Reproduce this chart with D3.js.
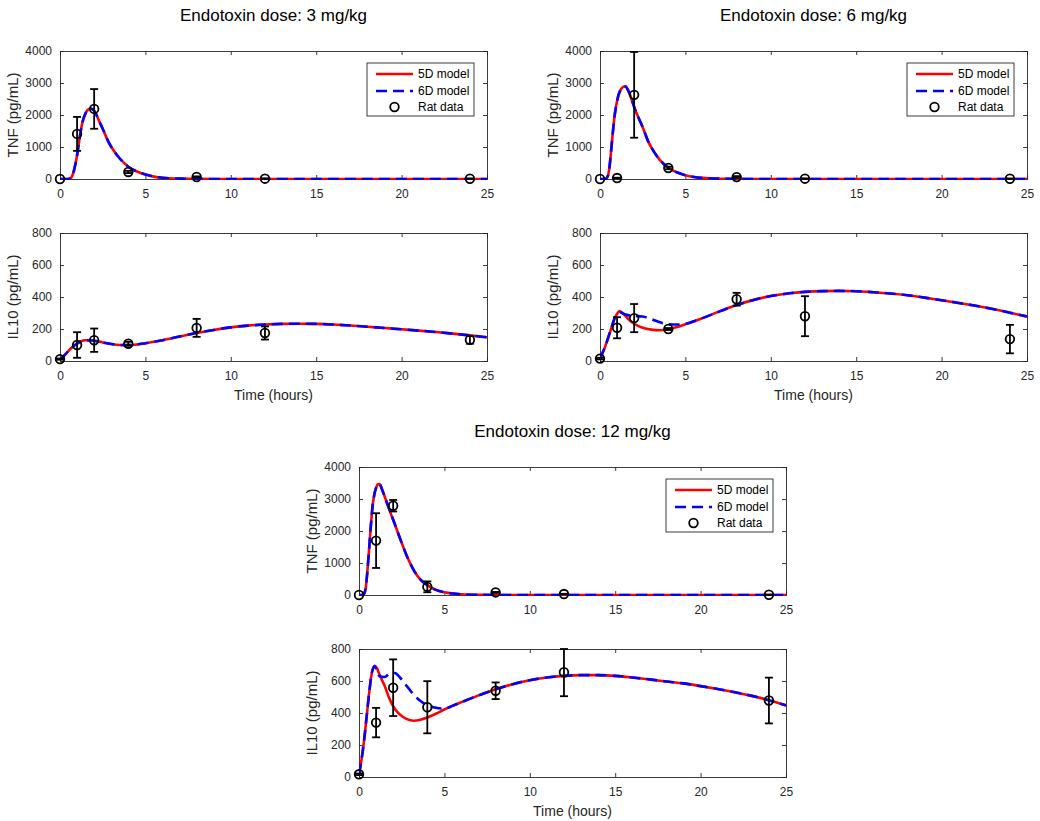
<!DOCTYPE html>
<html>
<head>
<meta charset="utf-8">
<script src="https://cdn.jsdelivr.net/npm/d3@7"></script>
<style>
  html, body { margin: 0; padding: 0; background: #ffffff; }
  svg { display: block; font-family: "Liberation Sans", Arial, sans-serif; }
</style>
</head>
<body>
<svg id="fig" width="1040" height="821"></svg>
<script>
// ---- Sampling times of the rat measurements (hours) ----
const sampleHours = [0, 1, 2, 4, 8, 12, 24];

// ---- Tick labels ----
const timeTicks = [0, 5, 10, 15, 20, 25];
const tnfTicks = [0, 1000, 2000, 3000, 4000];
const il10Ticks = [0, 200, 400, 600, 800];

// ---- Rat data: means and standard deviations ----
const tnf3Mean = [0, 1410, 2190, 220, 62, 10, 8];
const tnf3Sd = [0, 530, 620, 35, 20, 5, 5];
const il10_3Mean = [12, 100, 130, 108, 207, 175, 132];
const il10_3Sd = [4, 80, 73, 12, 56, 41, 24];

const tnf6Mean = [0, 30, 2630, 345, 60, 10, 8];
const tnf6Sd = [0, 10, 1340, 40, 30, 5, 5];
const il10_6Mean = [15, 208, 268, 200, 386, 280, 137];
const il10_6Sd = [5, 66, 88, 6, 40, 125, 89];

const tnf12Mean = [0, 1700, 2790, 255, 80, 30, 8];
const tnf12Sd = [0, 855, 180, 170, 15, 8, 5];
const il10_12Mean = [17, 340, 558, 436, 539, 655, 478];
const il10_12Sd = [5, 92, 177, 163, 52, 150, 143];

// ---- Model trajectories (time grid + values) ----
const tnf3T = [0, 0.4, 0.6, 0.7, 0.8, 0.9, 1.0, 1.15, 1.3, 1.5, 1.65, 1.8, 1.95, 2.1, 2.3, 2.5, 2.8, 3.1, 3.5, 4.0, 4.5, 5.0, 5.5, 6, 7, 8, 10, 25];
const tnf3Model5D = [0, 0, 20, 80, 230, 460, 740, 1280, 1740, 2060, 2170, 2200, 2160, 2040, 1800, 1570, 1200, 920, 640, 385, 235, 138, 75, 38, 11, 3, 0, 0];
const tnf3Model6D = [0, 0, 20, 80, 230, 460, 740, 1280, 1740, 2060, 2170, 2200, 2160, 2040, 1800, 1570, 1200, 920, 640, 385, 235, 138, 75, 38, 11, 3, 0, 0];

const il10_3T = [0, 0.3, 0.6, 0.9, 1.2, 1.5, 1.8, 2.1, 2.5, 3.0, 3.5, 4.0, 4.5, 5, 6, 7, 8, 9, 10, 11, 12, 13, 14, 15, 16, 17, 18, 19, 20, 21, 22, 23, 24, 25];
const il10_3Model5D = [10, 40, 75, 102, 122, 130, 130, 125, 116, 106, 100, 99, 103, 111, 130, 153, 175, 194, 210, 221, 228, 232, 233, 232, 228, 222, 214, 206, 198, 190, 181, 171, 160, 148];
const il10_3Model6D = [10, 40, 75, 102, 122, 130, 130, 125, 116, 106, 100, 99, 103, 111, 130, 153, 175, 194, 210, 221, 228, 232, 233, 232, 228, 222, 214, 206, 198, 190, 181, 171, 160, 148];

const tnf6T = [0, 0.3, 0.45, 0.55, 0.65, 0.75, 0.85, 0.95, 1.1, 1.25, 1.4, 1.5, 1.6, 1.75, 1.9, 2.05, 2.25, 2.5, 2.8, 3.1, 3.5, 4.0, 4.5, 5.0, 5.5, 6, 7, 8, 10, 25];
const tnf6Model5D = [0, 0, 80, 350, 880, 1450, 1950, 2300, 2650, 2820, 2890, 2890, 2820, 2640, 2410, 2170, 1920, 1620, 1200, 900, 600, 350, 210, 120, 65, 35, 10, 3, 0, 0];
const tnf6Model6D = [0, 0, 80, 350, 880, 1450, 1950, 2300, 2650, 2820, 2890, 2890, 2820, 2640, 2410, 2170, 1920, 1620, 1200, 900, 600, 350, 210, 120, 65, 35, 10, 3, 0, 0];

const il10_6T = [0, 0.3, 0.6, 0.9, 1.15, 1.4, 1.7, 2.0, 2.5, 3.0, 3.5, 4.0, 4.5, 5.0, 5.5, 6, 7, 8, 9, 10, 11, 12, 13, 14, 15, 16, 17, 18, 19, 20, 21, 22, 23, 24, 25];
const il10_6Model5D = [15, 90, 185, 275, 312, 292, 258, 233, 208, 196, 192, 198, 212, 230, 248, 268, 310, 350, 382, 406, 422, 432, 437, 438, 436, 430, 422, 411, 396, 380, 363, 345, 325, 302, 278];
const il10_6Model6D = [15, 90, 185, 280, 305, 294, 285, 282, 278, 262, 242, 230, 228, 232, 248, 268, 310, 350, 382, 406, 422, 432, 437, 438, 436, 430, 422, 411, 396, 380, 363, 345, 325, 302, 278];

const tnf12T = [0, 0.2, 0.3, 0.4, 0.5, 0.6, 0.7, 0.8, 0.9, 1.0, 1.1, 1.2, 1.35, 1.5, 1.65, 1.85, 2.05, 2.25, 2.45, 2.8, 3.1, 3.4, 3.7, 4.0, 4.5, 5.0, 5.5, 6, 7, 8, 10, 25];
const tnf12Model5D = [0, 0, 40, 250, 800, 1500, 2200, 2800, 3150, 3350, 3460, 3470, 3300, 3080, 2860, 2560, 2280, 1990, 1700, 1220, 880, 610, 430, 310, 160, 85, 45, 22, 6, 2, 0, 0];
const tnf12Model6D = [0, 0, 40, 250, 800, 1500, 2200, 2800, 3150, 3350, 3460, 3470, 3300, 3080, 2860, 2560, 2280, 1990, 1700, 1220, 880, 610, 430, 310, 160, 85, 45, 22, 6, 2, 0, 0];

const il10_12T = [0, 0.15, 0.3, 0.45, 0.6, 0.75, 0.92, 1.05, 1.2, 1.5, 1.8, 2.1, 2.4, 2.8, 3.2, 3.6, 4.0, 4.5, 5.0, 5.5, 6, 7, 8, 9, 10, 11, 12, 13, 14, 15, 16, 17, 18, 19, 20, 21, 22, 23, 24, 25];
const il10_12Model5D = [17, 110, 230, 380, 530, 650, 695, 680, 640, 570, 485, 425, 390, 362, 352, 358, 372, 395, 422, 446, 468, 510, 548, 580, 605, 622, 632, 637, 637, 632, 622, 610, 597, 585, 568, 550, 530, 507, 480, 447];
const il10_12Model6D = [17, 110, 230, 380, 530, 650, 692, 665, 630, 625, 645, 650, 622, 568, 515, 475, 450, 433, 428, 446, 468, 510, 548, 580, 605, 622, 632, 637, 637, 632, 622, 610, 597, 585, 568, 550, 530, 507, 480, 447];

// ---- Legend entries ----
const legendLabels = ["5D model", "6D model", "Rat data"];

// ---- Figure styling ----
const axisColor = "#262626";
const red = "#ff0000";
const blue = "#0000ff";
const svg = d3.select("#fig");
const PW = 427, PH = 128;

function zip(t, v) { return t.map((d, i) => [d, v[i]]); }

let clipId = 0;
function drawPanel(cfg) {
  const g = svg.append("g").attr("transform", `translate(${cfg.left},${cfg.top})`);
  const x = d3.scaleLinear().domain([0, 25]).range([0, PW]);
  const y = d3.scaleLinear().domain([0, cfg.yMax]).range([PH, 0]);

  // white plot area
  g.append("rect").attr("width", PW).attr("height", PH).attr("fill", "#fff");

  const id = "clip" + (clipId++);
  g.append("clipPath").attr("id", id).append("rect")
    .attr("x", 0).attr("y", -1).attr("width", PW).attr("height", PH + 2);

  // axes (ticks pointing inward, box on)
  const tickLen = 4;
  const axB = g.append("g").attr("transform", `translate(0,${PH})`)
    .call(d3.axisBottom(x).tickValues(timeTicks).tickSize(-tickLen).tickPadding(10).tickFormat(d3.format("d")));
  const axT = g.append("g")
    .call(d3.axisTop(x).tickValues(timeTicks).tickSize(-tickLen).tickFormat(""));
  const axL = g.append("g")
    .call(d3.axisLeft(y).tickValues(cfg.yTicks).tickSize(-tickLen).tickPadding(8).tickFormat(d3.format("d")));
  const axR = g.append("g").attr("transform", `translate(${PW},0)`)
    .call(d3.axisRight(y).tickValues(cfg.yTicks).tickSize(-tickLen).tickFormat(""));
  [axB, axT, axL, axR].forEach(a => {
    a.select(".domain").attr("stroke", axisColor).attr("stroke-width", 0.9);
    a.selectAll(".tick line").attr("stroke", axisColor).attr("stroke-width", 0.9);
    a.selectAll(".tick text").attr("fill", axisColor).attr("font-size", 12)
      .attr("font-family", "Liberation Sans, Arial, sans-serif");
  });
  axB.selectAll(".tick text").attr("dy", "0.71em");

  // model curves
  const line = d3.line().x(d => x(d[0])).y(d => y(d[1])).curve(d3.curveMonotoneX);
  const curves = g.append("g").attr("clip-path", `url(#${id})`);
  curves.append("path").attr("d", line(zip(cfg.t, cfg.m5)))
    .attr("fill", "none").attr("stroke", red).attr("stroke-width", 2.6);
  curves.append("path").attr("d", line(zip(cfg.t, cfg.m6)))
    .attr("fill", "none").attr("stroke", blue).attr("stroke-width", 2.6)
    .attr("stroke-dasharray", "11,6");

  // data with error bars
  const pts = sampleHours.map((h, i) => ({ h, m: cfg.mean[i], s: cfg.sd[i] }));
  const eb = g.append("g").attr("stroke", "#000").attr("stroke-width", 1.8).attr("fill", "none");
  const cap = 4;
  pts.forEach(p => {
    if (p.s <= 0) return;
    const lo = y(p.m - p.s), hi = y(Math.min(p.m + p.s, cfg.yMax));
    const xc = x(p.h);
    eb.append("line").attr("x1", xc).attr("x2", xc).attr("y1", lo).attr("y2", hi);
    eb.append("line").attr("x1", xc - cap).attr("x2", xc + cap).attr("y1", lo).attr("y2", lo);
    eb.append("line").attr("x1", xc - cap).attr("x2", xc + cap).attr("y1", hi).attr("y2", hi);
  });
  g.append("g").selectAll("circle").data(pts).join("circle")
    .attr("cx", d => x(d.h)).attr("cy", d => y(d.m)).attr("r", 4.3)
    .attr("fill", "none").attr("stroke", "#000").attr("stroke-width", 1.8);

  // axis labels
  g.append("text").attr("transform", `translate(${-42},${PH / 2}) rotate(-90)`)
    .attr("text-anchor", "middle").attr("font-size", 15).attr("fill", axisColor)
    .text(cfg.yLabel);
  if (cfg.xLabel) {
    g.append("text").attr("x", PW / 2).attr("y", PH + 39)
      .attr("text-anchor", "middle").attr("font-size", 14).attr("fill", axisColor)
      .text(cfg.xLabel);
  }
  if (cfg.title) {
    g.append("text").attr("x", PW / 2).attr("y", -30)
      .attr("text-anchor", "middle").attr("font-size", 17).attr("fill", "#000")
      .text(cfg.title);
  }

  // legend
  if (cfg.legend) {
    const lw = 107, lh = 53;
    const lg = g.append("g").attr("transform", `translate(${PW - 13 - lw},12)`);
    lg.append("rect").attr("width", lw).attr("height", lh)
      .attr("fill", "#fff").attr("stroke", axisColor).attr("stroke-width", 0.9);
    const rows = [11, 28, 44];
    lg.append("line").attr("x1", 9).attr("x2", 46).attr("y1", rows[0]).attr("y2", rows[0])
      .attr("stroke", red).attr("stroke-width", 2.6);
    lg.append("line").attr("x1", 9).attr("x2", 46).attr("y1", rows[1]).attr("y2", rows[1])
      .attr("stroke", blue).attr("stroke-width", 2.6).attr("stroke-dasharray", "11,6");
    lg.append("circle").attr("cx", 27.5).attr("cy", rows[2]).attr("r", 4.3)
      .attr("fill", "none").attr("stroke", "#000").attr("stroke-width", 1.8);
    legendLabels.forEach((t, i) => {
      lg.append("text").attr("x", 51).attr("y", rows[i]).attr("dy", "0.35em")
        .attr("font-size", 12).attr("fill", "#000").text(t);
    });
  }
}

const panels = [
  { left: 60, top: 51, yMax: 4000, yTicks: tnfTicks, yLabel: "TNF (pg/mL)",
    title: "Endotoxin dose: 3 mg/kg", legend: true,
    t: tnf3T, m5: tnf3Model5D, m6: tnf3Model6D, mean: tnf3Mean, sd: tnf3Sd },
  { left: 60, top: 233, yMax: 800, yTicks: il10Ticks, yLabel: "IL10 (pg/mL)",
    xLabel: "Time (hours)",
    t: il10_3T, m5: il10_3Model5D, m6: il10_3Model6D, mean: il10_3Mean, sd: il10_3Sd },
  { left: 600, top: 51, yMax: 4000, yTicks: tnfTicks, yLabel: "TNF (pg/mL)",
    title: "Endotoxin dose: 6 mg/kg", legend: true,
    t: tnf6T, m5: tnf6Model5D, m6: tnf6Model6D, mean: tnf6Mean, sd: tnf6Sd },
  { left: 600, top: 233, yMax: 800, yTicks: il10Ticks, yLabel: "IL10 (pg/mL)",
    xLabel: "Time (hours)",
    t: il10_6T, m5: il10_6Model5D, m6: il10_6Model6D, mean: il10_6Mean, sd: il10_6Sd },
  { left: 359, top: 467, yMax: 4000, yTicks: tnfTicks, yLabel: "TNF (pg/mL)",
    title: "Endotoxin dose: 12 mg/kg", legend: true,
    t: tnf12T, m5: tnf12Model5D, m6: tnf12Model6D, mean: tnf12Mean, sd: tnf12Sd },
  { left: 359, top: 649, yMax: 800, yTicks: il10Ticks, yLabel: "IL10 (pg/mL)",
    xLabel: "Time (hours)",
    t: il10_12T, m5: il10_12Model5D, m6: il10_12Model6D, mean: il10_12Mean, sd: il10_12Sd }
];
panels.forEach(drawPanel);
</script>
</body>
</html>
